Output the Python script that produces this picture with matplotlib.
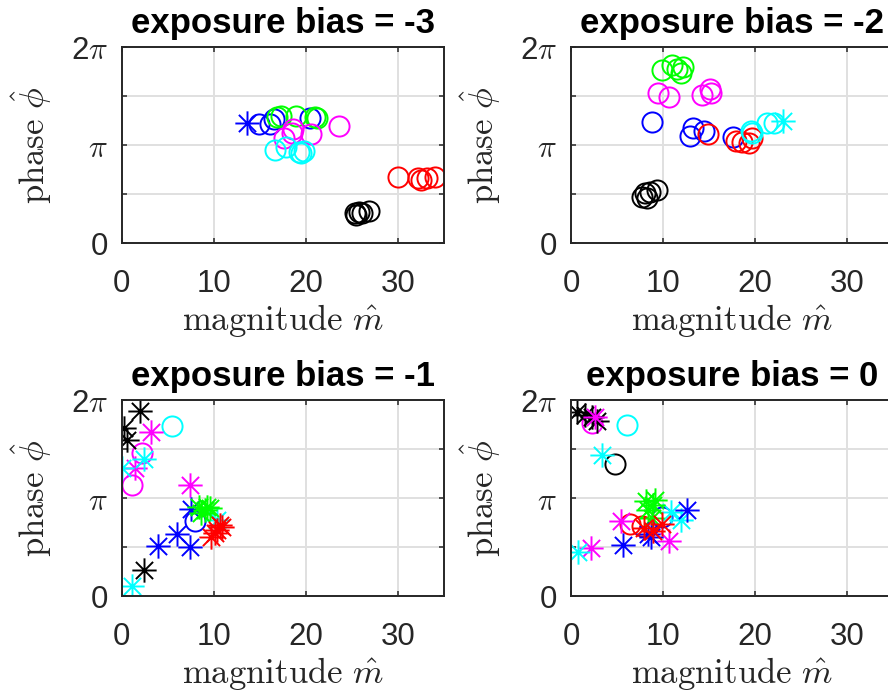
import numpy as np
import matplotlib
matplotlib.use("Agg")
import matplotlib.pyplot as plt
from matplotlib.path import Path
from matplotlib.ticker import FixedLocator, FixedFormatter

plt.rcParams["font.family"] = ["Liberation Sans", "DejaVu Sans"]
plt.rcParams["mathtext.fontset"] = "cm"

# Exposure bias for each panel
biases = [-3, -2, -1, 0]

# Estimated (magnitude, phase / pi) per colour; circles and asterisks
bias_m3_circles = {
    "b": ([14.9, 16.1, 16.5, 20.5], [1.21, 1.21, 1.27, 1.28]),
    "g": ([16.9, 17.3, 18.9, 21.0, 21.2], [1.29, 1.30, 1.30, 1.29, 1.28]),
    "m": ([23.6, 18.6, 18.5, 20.6, 17.6], [1.19, 1.16, 1.12, 1.11, 1.07]),
    "c": ([16.7, 17.8, 19.3, 19.8, 19.5], [0.95, 0.98, 0.93, 0.94, 0.92]),
    "r": ([30.0, 32.2, 32.5, 33.1, 34.0], [0.67, 0.66, 0.64, 0.66, 0.67]),
    "k": ([25.3, 25.8, 26.1, 26.9, 25.4], [0.31, 0.32, 0.31, 0.33, 0.29]),
}
bias_m3_stars = {
    "b": ([13.6], [1.22]),
}

bias_m2_circles = {
    "g": ([9.9, 11.0, 11.5, 11.9, 12.2], [1.77, 1.82, 1.78, 1.73, 1.80]),
    "m": ([9.4, 10.6, 14.25, 15.1, 15.2], [1.53, 1.49, 1.51, 1.57, 1.53]),
    "b": ([8.8, 13.3, 12.9, 14.4, 17.6], [1.23, 1.17, 1.09, 1.14, 1.085]),
    "r": ([14.9, 17.9, 18.6, 19.7, 19.3], [1.11, 1.04, 1.03, 1.07, 1.02]),
    "c": ([19.5, 19.7, 21.3, 22.0], [1.14, 1.12, 1.22, 1.22]),
    "k": ([7.7, 8.07, 8.6, 9.35, 8.25], [0.47, 0.51, 0.52, 0.54, 0.456]),
}
bias_m2_stars = {
    "c": ([23.0], [1.24]),
}

bias_m1_circles = {
    "m": ([2.25, 1.16], [1.46, 1.13]),
    "c": ([5.5], [1.73]),
    "b": ([8.0], [0.77]),
}
bias_m1_stars = {
    "k": ([2.0, 0.2, 0.6, 2.4], [1.89, 1.71, 1.59, 0.27]),
    "m": ([3.2, 1.4, 7.45], [1.67, 1.31, 1.13]),
    "c": ([2.46, 0.0, 1.1, 10.4], [1.40, 1.31, 0.10, 0.78]),
    "b": ([7.56, 6.0, 3.9, 7.45], [0.89, 0.63, 0.51, 0.50]),
    "g": ([8.4, 9.3, 9.6, 8.6, 9.0], [0.91, 0.91, 0.895, 0.85, 0.88]),
    "r": ([9.7, 10.7, 10.4, 10.9, 10.1], [0.60, 0.72, 0.67, 0.70, 0.64]),
}

bias_0_circles = {
    "k": ([4.8], [1.35]),
    "m": ([2.3], [1.77]),
    "c": ([6.1], [1.75]),
    "b": ([9.9], [0.81]),
    "r": ([6.4, 7.7], [0.73, 0.71]),
}
bias_0_stars = {
    "k": ([0.6, 2.8, 2.3, 1.5], [1.88, 1.79, 1.83, 1.85]),
    "m": ([2.6, 5.45, 2.2, 10.6], [1.83, 0.77, 0.49, 0.56]),
    "c": ([3.4, 0.8, 10.9, 11.9], [1.44, 0.45, 0.86, 0.78]),
    "g": ([8.1, 9.1, 8.4, 8.8, 8.9], [0.97, 0.98, 0.88, 0.80, 0.93]),
    "b": ([5.6, 8.4, 8.7, 12.6], [0.52, 0.63, 0.60, 0.88]),
    "r": ([7.9, 9.9, 8.9], [0.69, 0.73, 0.66]),
}

circle_sets = [bias_m3_circles, bias_m2_circles, bias_m1_circles, bias_0_circles]
star_sets = [bias_m3_stars, bias_m2_stars, bias_m1_stars, bias_0_stars]

x_ticks = [0, 10, 20, 30]
x_tick_labels = ["0", "10", "20", "30"]
y_ticks_pi = [0, 0.5, 1, 1.5, 2]
y_tick_labels = ["0", "", r"$\pi$", "", r"2$\pi$"]

colour_map = {
    "r": (1, 0, 0), "g": (0, 1, 0), "b": (0, 0, 1),
    "c": (0, 1, 1), "m": (1, 0, 1), "k": (0, 0, 0),
}

# Eight-armed asterisk marker
d = np.sqrt(0.5)
asterisk = Path(
    [(-1, 0), (1, 0), (0, -1), (0, 1), (-d, -d), (d, d), (-d, d), (d, -d)],
    [Path.MOVETO, Path.LINETO] * 4,
)

fig = plt.figure(figsize=(8.88, 6.98), dpi=100)
W, H = 888.0, 698.0
ax_w = 322.3 / W
ax_h = 196.0 / H
lefts = [121.7 / W, 571.0 / W]
bottoms = [1 - 243.0 / H, 1 - 596.0 / H]
positions = [
    (lefts[0], bottoms[0]), (lefts[1], bottoms[0]),
    (lefts[0], bottoms[1]), (lefts[1], bottoms[1]),
]

text_col = "#262626"

for i, bias in enumerate(biases):
    ax = fig.add_axes([positions[i][0], positions[i][1], ax_w, ax_h])
    for col, (xs, ys) in circle_sets[i].items():
        ax.plot(xs, np.array(ys) * np.pi, linestyle="none", marker="o",
                markersize=14.5, markerfacecolor="none",
                markeredgecolor=colour_map[col], markeredgewidth=1.4)
    for col, (xs, ys) in star_sets[i].items():
        ax.plot(xs, np.array(ys) * np.pi, linestyle="none", marker=asterisk,
                markersize=17.5, markerfacecolor="none",
                markeredgecolor=colour_map[col], markeredgewidth=1.4)

    ax.set_xlim(0, 35)
    ax.set_ylim(0, 2 * np.pi)
    ax.xaxis.set_major_locator(FixedLocator(x_ticks))
    ax.xaxis.set_major_formatter(FixedFormatter(x_tick_labels))
    ax.yaxis.set_major_locator(FixedLocator([v * np.pi for v in y_ticks_pi]))
    ax.yaxis.set_major_formatter(FixedFormatter(y_tick_labels))

    ax.grid(True, color="#e0e0e0", linewidth=1.4)
    ax.set_axisbelow(True)
    for sp in ax.spines.values():
        sp.set_color(text_col)
        sp.set_linewidth(1.4)
    ax.tick_params(axis="both", direction="in", length=3.5, width=1.1,
                   colors=text_col, top=True, right=True, labelsize=22.5)
    ax.tick_params(axis="x", pad=19)
    ax.tick_params(axis="y", pad=10)

    ax.set_title(f"exposure bias = {bias}", fontsize=25, fontweight="bold",
                 pad=10, color="black")
    ax.set_xlabel(r"$\mathrm{magnitude}\ \hat{m}$", fontsize=25, color=text_col)
    ax.set_ylabel(r"$\mathrm{phase}\ \hat{\phi}$", fontsize=25, color=text_col)
    ax.xaxis.set_label_coords(0.5, -0.30)
    ax.yaxis.set_label_coords(-0.21, 0.5)

fig.savefig("out.png", dpi=100)
